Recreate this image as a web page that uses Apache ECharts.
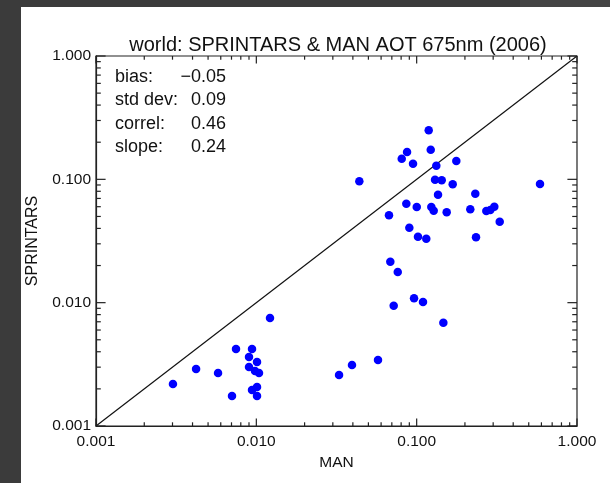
<!DOCTYPE html>
<html>
<head>
<meta charset="utf-8">
<script src="https://cdn.jsdelivr.net/npm/echarts@6/dist/echarts.min.js"></script>
<style>
html,body{margin:0;padding:0;background:#ffffff;}
#chart{width:610px;height:483px;}
</style>
</head>
<body>
<div id="chart"></div>
<script>
// ---- data ----
const titleText = 'world: SPRINTARS & MAN AOT 675nm (2006)';
const xName = 'MAN';
const yName = 'SPRINTARS';
const statLabels = ['bias:', 'std dev:', 'correl:', 'slope:'];
const statValues = ['\u22120.05', '0.09', '0.46', '0.24'];
const decades = [0.001, 0.01, 0.1, 1];
const minorSteps = [2, 3, 4, 5, 6, 7, 8, 9];
const manValues = [
  0.00302, 0.00421, 0.00577, 0.00747, 0.0094, 0.0090, 0.0101, 0.0090, 0.00981, 0.01039,
  0.00705, 0.0094, 0.0101, 0.0101, 0.01217, 0.0328, 0.0395, 0.0574,
  0.1189, 0.0871, 0.0807, 0.0949, 0.1224, 0.1326, 0.1767, 0.0439, 0.1302, 0.1433,
  0.1678, 0.5878, 0.1359, 0.2321, 0.0862, 0.1001, 0.1234, 0.1277, 0.1539, 0.2160,
  0.2719, 0.2879, 0.3050, 0.3296, 0.0672, 0.0900, 0.1019, 0.1148, 0.2345,
  0.0685, 0.0762, 0.0963, 0.1095, 0.0719, 0.1467
];
const sprintarsValues = [
  0.00219, 0.0029, 0.00269, 0.00421, 0.00421, 0.00363, 0.0033, 0.00301, 0.00279, 0.00269,
  0.00175, 0.00196, 0.00207, 0.00175, 0.00751, 0.00259, 0.00313, 0.00343,
  0.2498, 0.1666, 0.1471, 0.1339, 0.1739, 0.1290, 0.1409, 0.0964, 0.0993, 0.0982,
  0.0912, 0.0917, 0.0751, 0.0765, 0.0635, 0.0597, 0.0597, 0.0557, 0.0540, 0.0571,
  0.0554, 0.0564, 0.0600, 0.0453, 0.0511, 0.0405, 0.0343, 0.0330, 0.0339,
  0.0215, 0.0177, 0.01085, 0.01013, 0.00945, 0.00688
];
const oneToOne = [[0.001, 0.001], [1, 1]];

// ---- build ----
const FONT = "'Liberation Sans', Arial, Helvetica, sans-serif";
const AXMIN = 0.001, AXMAX = 1;
const ticks = [];
decades.forEach(d => {
  ticks.push({ v: d, major: true });
  if (d < AXMAX) minorSteps.forEach(m => ticks.push({ v: d * m, major: false }));
});
const points = manValues.map((x, i) => [x, sprintarsValues[i]]);

const X_MAJ = 7.4, X_MIN = 3.7, Y_MAJ = 9.6, Y_MIN = 4.8;
const tickStyle = { stroke: '#222', lineWidth: 1.2 };

const chart = echarts.init(document.getElementById('chart'), null, { renderer: 'canvas' });
chart.setOption({
  animation: false,
  backgroundColor: '#ffffff',
  textStyle: { fontFamily: FONT },
  title: {
    text: titleText,
    left: 333, top: 30, textAlign: 'center',
    textStyle: { fontFamily: FONT, fontSize: 20, fontWeight: 'normal', color: '#111' }
  },
  graphic: [
    { type: 'rect', shape: { x: 0, y: 0, width: 21, height: 483 }, style: { fill: '#3b3b3b' }, z: 100 },
    { type: 'rect', shape: { x: 0, y: 0, width: 610, height: 7 }, style: { fill: '#3b3b3b' }, z: 100 },
    { type: 'rect', shape: { x: 520, y: 0, width: 90, height: 7 }, style: { fill: '#444444' }, z: 101 }
  ].concat(statLabels.map((s, i) => ({
    type: 'text', x: 115, y: 77 + i * 23.3, z: 50,
    style: { text: s, font: '18px ' + FONT, fill: '#111', textVerticalAlign: 'middle', textAlign: 'left' }
  }))).concat(statValues.map((s, i) => ({
    type: 'text', x: 226, y: 77 + i * 23.3, z: 50,
    style: { text: s, font: '18px ' + FONT, fill: '#111', textVerticalAlign: 'middle', textAlign: 'right' }
  }))),
  grid: { left: 96, top: 56, width: 481, height: 370, show: true, borderColor: '#222', borderWidth: 1.2, backgroundColor: 'transparent' },
  xAxis: {
    type: 'log', logBase: 10, min: AXMIN, max: AXMAX, splitNumber: 3,
    name: xName, nameLocation: 'middle', nameGap: 26,
    nameTextStyle: { fontFamily: FONT, fontSize: 15.5, color: '#111' },
    axisLine: { show: true, lineStyle: { color: '#222', width: 1.2 } },
    axisTick: { show: false },
    splitLine: { show: false },
    axisLabel: { fontFamily: FONT, fontSize: 15.5, color: '#111', margin: 8, formatter: v => Number(v).toFixed(3) }
  },
  yAxis: {
    type: 'log', logBase: 10, min: AXMIN, max: AXMAX, splitNumber: 3,
    name: yName, nameLocation: 'middle', nameGap: 55, nameRotate: 90,
    nameTextStyle: { fontFamily: FONT, fontSize: 16, color: '#111' },
    axisLine: { show: true, lineStyle: { color: '#222', width: 1.2 } },
    axisTick: { show: false },
    splitLine: { show: false },
    axisLabel: { fontFamily: FONT, fontSize: 15.5, color: '#111', margin: 5, formatter: v => Number(v).toFixed(3) }
  },
  series: [
    {
      type: 'line', data: oneToOne, showSymbol: false, symbol: 'none',
      lineStyle: { color: '#111', width: 1.2 }, silent: true, z: 3
    },
    {
      type: 'scatter', data: points, symbol: 'circle', symbolSize: 8.5,
      itemStyle: { color: '#0000ff', opacity: 1 }, silent: true, z: 4
    },
    {
      type: 'custom', silent: true, z: 5, clip: false,
      data: ticks.map(t => [t.v, AXMIN]),
      renderItem: (params, api) => {
        const t = ticks[params.dataIndex];
        const b = api.coord([t.v, AXMIN]);
        const top = api.coord([t.v, AXMAX]);
        const L = t.major ? X_MAJ : X_MIN;
        return { type: 'group', children: [
          { type: 'line', shape: { x1: b[0], y1: b[1], x2: b[0], y2: b[1] - L }, style: tickStyle },
          { type: 'line', shape: { x1: top[0], y1: top[1], x2: top[0], y2: top[1] + L }, style: tickStyle }
        ]};
      }
    },
    {
      type: 'custom', silent: true, z: 5, clip: false,
      data: ticks.map(t => [AXMIN, t.v]),
      renderItem: (params, api) => {
        const t = ticks[params.dataIndex];
        const l = api.coord([AXMIN, t.v]);
        const r = api.coord([AXMAX, t.v]);
        const L = t.major ? Y_MAJ : Y_MIN;
        return { type: 'group', children: [
          { type: 'line', shape: { x1: l[0], y1: l[1], x2: l[0] + L, y2: l[1] }, style: tickStyle },
          { type: 'line', shape: { x1: r[0], y1: r[1], x2: r[0] - L, y2: r[1] }, style: tickStyle }
        ]};
      }
    }
  ]
});
</script>
</body>
</html>
